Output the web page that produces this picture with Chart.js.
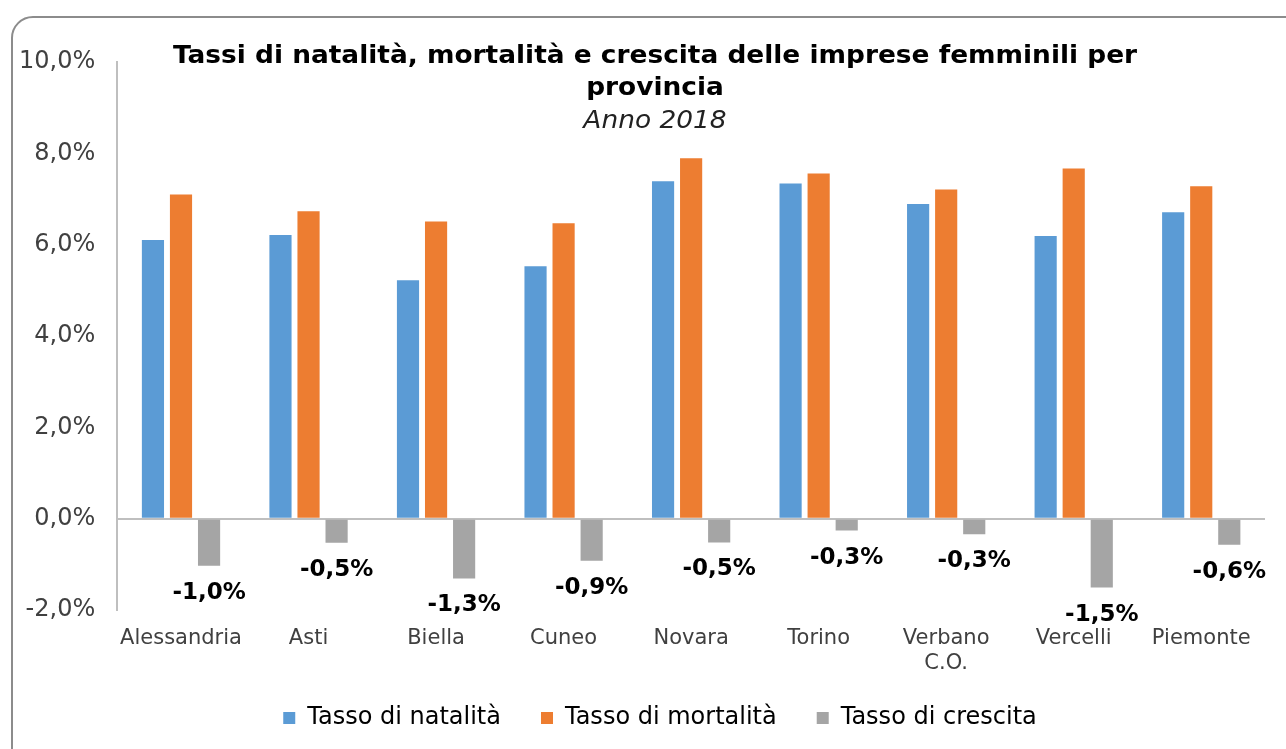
<!DOCTYPE html>
<html>
<head>
<meta charset="utf-8">
<script src="https://cdn.jsdelivr.net/npm/chart.js@4"></script>
<style>
  html, body { margin: 0; padding: 0; background: #fff; overflow: hidden; }
  #wrap { position: relative; width: 1286px; height: 749px; }
  #frame { position: absolute; left: 11px; top: 16px; width: 1300px; height: 780px;
    border: 2px solid #8c8c8c; border-radius: 22px; box-sizing: border-box; }
  #title { position: absolute; left: 155px; width: 1000px; top: 39px; text-align: center;
    font-family: "DejaVu Sans", Verdana, sans-serif; color: #000;
    transform: scaleX(1.1); transform-origin: 500px 0; }
  #title .main { font-weight: bold; font-size: 24px; line-height: 32px; }
  #title .sub { font-style: italic; font-size: 24px; line-height: 34px; color: #222; }
  canvas { position: absolute; left: 0; top: 0; }
</style>
</head>
<body>
<div id="wrap">
  <div id="frame"></div>
  <canvas id="chart" width="1286" height="749"></canvas>
  <div id="title">
    <div class="main">Tassi di natalità, mortalità e crescita delle imprese femminili per<br>provincia</div>
    <div class="sub">Anno 2018</div>
  </div>
</div>
<script>
const province = ['Alessandria', 'Asti', 'Biella', 'Cuneo', 'Novara', 'Torino', ['Verbano', 'C.O.'], 'Vercelli', 'Piemonte'];
const natalita = [6.10, 6.21, 5.22, 5.53, 7.39, 7.34, 6.89, 6.19, 6.71];
const mortalita = [7.10, 6.73, 6.51, 6.47, 7.89, 7.56, 7.21, 7.67, 7.28];
const crescita = [-1.03, -0.53, -1.31, -0.92, -0.52, -0.26, -0.34, -1.51, -0.57];
const yTicks = [-2, 0, 2, 4, 6, 8, 10];

const fmt = v => v.toFixed(1).replace('.', ',') + '%';

// etichette sotto le barre del tasso di crescita
const crescitaLabels = {
  id: 'crescitaLabels',
  afterDatasetsDraw(chart) {
    const ctx = chart.ctx;
    const meta = chart.getDatasetMeta(2);
    ctx.save();
    ctx.font = 'bold 23px "DejaVu Sans", Verdana, sans-serif';
    ctx.fillStyle = '#000';
    ctx.textAlign = 'center';
    ctx.textBaseline = 'middle';
    meta.data.forEach((bar, i) => {
      ctx.fillText(fmt(crescita[i]), bar.x, bar.y + 27);
    });
    ctx.restore();
  }
};

// la seconda riga "C.O." non deve essere tagliata; legenda un po' più a destra
const tweakLayout = {
  id: 'tweakLayout',
  afterLayout(chart) {
    const x = chart.scales.x;
    x.bottom = x.top + 75;
    chart.legend.left += 29;
    chart.legend.right += 29;
  }
};

new Chart(document.getElementById('chart'), {
  type: 'bar',
  data: {
    labels: province,
    datasets: [
      { label: 'Tasso di natalità', data: natalita, backgroundColor: '#5B9BD5' },
      { label: 'Tasso di mortalità', data: mortalita, backgroundColor: '#ED7D31' },
      { label: 'Tasso di crescita', data: crescita, backgroundColor: '#A5A5A5' },
    ],
  },
  options: {
    responsive: false,
    animation: false,
    events: [],
    datasets: { bar: { categoryPercentage: 0.66, barPercentage: 0.79 } },
    layout: { padding: { left: -3, right: 21, top: 62, bottom: 9 } },
    plugins: {
      title: { display: false },
      tooltip: { enabled: false },
      legend: {
        position: 'bottom',
        labels: {
          boxWidth: 12, boxHeight: 12, padding: 40, color: '#000',
          font: { family: '"DejaVu Sans", Verdana, sans-serif', size: 24 },
        },
      },
    },
    scales: {
      x: {
        grid: { display: false },
        border: { display: false },
        afterFit: axis => { axis.height = 56; },
        ticks: {
          color: '#404040', padding: 8, maxRotation: 0, autoSkip: false,
          font: { family: '"DejaVu Sans", Verdana, sans-serif', size: 21 },
        },
      },
      y: {
        min: -2, max: 10,
        afterBuildTicks: axis => { axis.ticks = yTicks.map(v => ({ value: v })); },
        grid: {
          drawTicks: false,
          color: c => (c.tick && c.tick.value === 0 ? '#bfbfbf' : 'rgba(0,0,0,0)'),
          lineWidth: 2,
        },
        border: { display: true, color: '#bfbfbf', width: 2 },
        ticks: {
          color: '#404040', padding: 22,
          font: { family: '"DejaVu Sans", Verdana, sans-serif', size: 24 },
          callback: v => fmt(v),
        },
      },
    },
  },
  plugins: [crescitaLabels, tweakLayout],
});
</script>
</body>
</html>
